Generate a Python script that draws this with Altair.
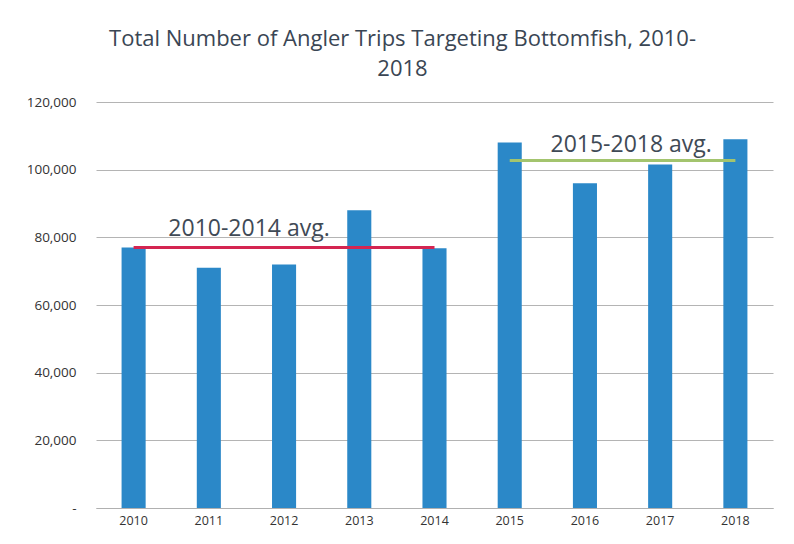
import altair as alt
import pandas as pd

years = ["2010", "2011", "2012", "2013", "2014", "2015", "2016", "2017", "2018"]
trips = [77000, 71000, 72000, 88000, 76800, 108000, 96000, 101500, 109000]

avg_labels = ["2010-2014 avg.", "2015-2018 avg."]
avg_start = ["2010", "2015"]
avg_end = ["2014", "2018"]
avg_values = [77000, 102700]
avg_colors = ["#d42551", "#a3c46e"]
label_year = ["2012", "2017"]

bars_df = pd.DataFrame({"year": years, "trips": trips})
avg_df = pd.DataFrame({"label": avg_labels, "start": avg_start, "end": avg_end,
                       "value": avg_values, "color": avg_colors, "lyear": label_year})

FONT = "Open Sans"
xscale = alt.Scale(domain=years, paddingInner=0.68, paddingOuter=0.34)
yscale = alt.Scale(domain=[0, 120000])

bars = alt.Chart(bars_df).mark_bar(color="#2b88c8").encode(
    x=alt.X("year:N", scale=xscale, sort=years, title=None,
            axis=alt.Axis(labelAngle=0, labelFontSize=12.5, labelColor="#333333",
                          labelFont=FONT, ticks=False, domain=True, domainColor="#b0b0b0",
                          labelPadding=6, grid=False)),
    y=alt.Y("trips:Q", scale=yscale, title=None,
            axis=alt.Axis(values=[0, 20000, 40000, 60000, 80000, 100000, 120000],
                          labelExpr="datum.value == 0 ? '-' : format(datum.value, ',')",
                          labelFontSize=13.5, labelColor="#333333", labelFont=FONT,
                          ticks=False, domain=False, labelPadding=20,
                          gridColor="#b4b4b4", gridWidth=1)),
)

lines = alt.Chart(avg_df).mark_rule(strokeWidth=3).encode(
    x=alt.X("start:N", scale=xscale, sort=years),
    x2="end:N",
    y=alt.Y("value:Q", scale=yscale),
    color=alt.Color("color:N", scale=None),
)

def avg_text(label, dx, dy):
    return alt.Chart(avg_df).transform_filter(
        alt.datum.label == label
    ).mark_text(fontSize=23, font=FONT, color="#3f4a56", dy=dy, dx=dx,
                baseline="middle").encode(
        x=alt.X("lyear:N", scale=xscale, sort=years),
        y=alt.Y("value:Q", scale=yscale),
        text="label:N",
    )

text1 = avg_text(avg_labels[0], -35, -18)
text2 = avg_text(avg_labels[1], -29, -16)

chart = alt.layer(bars, lines, text1, text2).properties(
    width=677, height=406,
    padding={"left": 88, "top": 94, "right": 13, "bottom": 20},
    autosize=alt.AutoSizeParams(type="none"),
    background="white",
    title=alt.TitleParams(
        text=["Total Number of Angler Trips Targeting Bottomfish, 2010-", "2018"],
        font=FONT, fontSize=22, fontWeight="normal", color="#3a4654",
        anchor="middle", dx=-32, offset=14, lineHeight=30,
    ),
).configure_view(stroke=None)

chart.save("out.html", embed_options={"renderer": "svg", "actions": False})
